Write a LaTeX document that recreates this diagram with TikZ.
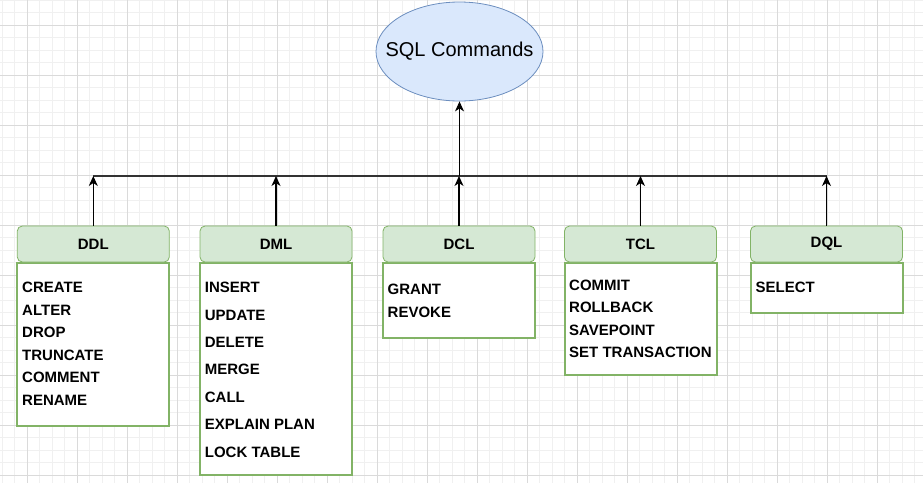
\documentclass[tikz,border=0pt]{standalone}
\usepackage{fontspec}
\setmainfont{Liberation Sans}
\usetikzlibrary{arrows.meta,shapes.geometric}
\definecolor{gridminor}{HTML}{F0F0F0}
\definecolor{gridmajor}{HTML}{DADADA}
\definecolor{greenfill}{HTML}{D5E8D4}
\definecolor{greenline}{HTML}{82B366}
\definecolor{bluefill}{HTML}{DAE8FC}
\definecolor{blueline}{HTML}{6C8EBF}
\definecolor{busgray}{HTML}{333333}
\begin{document}
\begin{tikzpicture}[x=1pt,y=-1pt,
  minorline/.style={draw=gridminor,line width=0.8pt},
  majorline/.style={draw=gridmajor,line width=0.8pt},
  hdr/.style={draw=greenline, fill=greenfill, rounded corners=5pt, minimum width=152pt, minimum height=36pt, inner sep=0pt, font=\bfseries\fontsize{15}{17}\selectfont, line width=0.8pt},
  listbox/.style={draw=greenline, line width=2pt, fill=white, minimum width=152pt, inner sep=0pt, anchor=north},
  item/.style={anchor=west, inner sep=0pt, text height=10.5pt, text depth=0pt, font=\bfseries\fontsize{15}{17}\selectfont},
  arr/.style={-{Stealth[length=10pt,width=9pt,inset=3pt]}, line width=1.1pt, draw=black},
  busline/.style={line width=1.1pt, draw=busgray}]
\useasboundingbox (0,0) rectangle (923,483);
\fill[white] (0,0) rectangle (923,483);
% grid
\foreach \i in {0,...,73}{
  \pgfmathsetmacro{\gx}{2.2+12.5*\i}
  \draw[minorline] (\gx,0) -- (\gx,483);
}
\foreach \j in {0,...,38}{
  \pgfmathsetmacro{\gy}{0.3+12.5*\j}
  \draw[minorline] (0,\gy) -- (923,\gy);
}
\foreach \i in {0,...,18}{
  \pgfmathsetmacro{\gx}{27.2+50*\i}
  \draw[majorline] (\gx,0) -- (\gx,483);
}
\foreach \j in {0,...,9}{
  \pgfmathsetmacro{\gy}{25.3+50*\j}
  \draw[majorline] (0,\gy) -- (923,\gy);
}
% root
\node[ellipse, draw=blueline, fill=bluefill, line width=0.8pt, minimum width=167pt, minimum height=99pt, inner xsep=-25pt, inner ysep=0pt, font=\fontsize{20}{24}\selectfont] (sql) at (459.5,51.5) {SQL Commands};
% bodies
\node[listbox, minimum height=163pt] (ddlb) at (93.3,262) {};
\node[listbox, minimum height=212pt] (dmlb) at (276,262) {};
\node[listbox, minimum height=75pt] (dclb) at (459,262) {};
\node[listbox, minimum height=112pt] (tclb) at (640.5,262) {};
\node[listbox, minimum height=50pt] (dqlb) at (826.5,262) {};
% headers
\node[hdr] (ddlh) at (93.3,244) {DDL};
\node[hdr] (dmlh) at (276,244) {DML};
\node[hdr] (dclh) at (459,244) {DCL};
\node[hdr] (tclh) at (640.5,244) {TCL};
\node[hdr] (dqlh) at (826.5,244) {DQL};
% items
\foreach \t/\y [count=\k] in {CREATE/287.3, ALTER/310.7, DROP/332.6, TRUNCATE/355.3, COMMENT/377.6, RENAME/400}
  \node[item] (ddli\k) at (22,\y) {\t};
\foreach \t/\y [count=\k] in {INSERT/287.3, UPDATE/315.5, DELETE/342.7, MERGE/369.7, CALL/397.3, EXPLAIN PLAN/424.7, LOCK TABLE/452}
  \node[item] (dmli\k) at (204.7,\y) {\t};
\foreach \t/\y [count=\k] in {GRANT/289, REVOKE/312.3}
  \node[item] (dcli\k) at (387.5,\y) {\t};
\foreach \t/\y [count=\k] in {COMMIT/285.7, ROLLBACK/307.5, SAVEPOINT/330.5, SET TRANSACTION/352.3}
  \node[item] (tcli\k) at (569,\y) {\t};
\node[item] (dqli1) at (755.5,287.7) {SELECT};
% connectors
\coordinate (bus) at (459,176);
\draw[busline] (ddlh.north |- bus) -- (dqlh.north |- bus);
\foreach \n in {ddlh,dmlh,dclh,tclh,dqlh}
  \draw[arr] (\n.north) -- (\n.north |- bus);
\coordinate (hub) at (sql.south |- bus);
\draw[arr] (hub) -- (sql.south);
\end{tikzpicture}
\end{document}
